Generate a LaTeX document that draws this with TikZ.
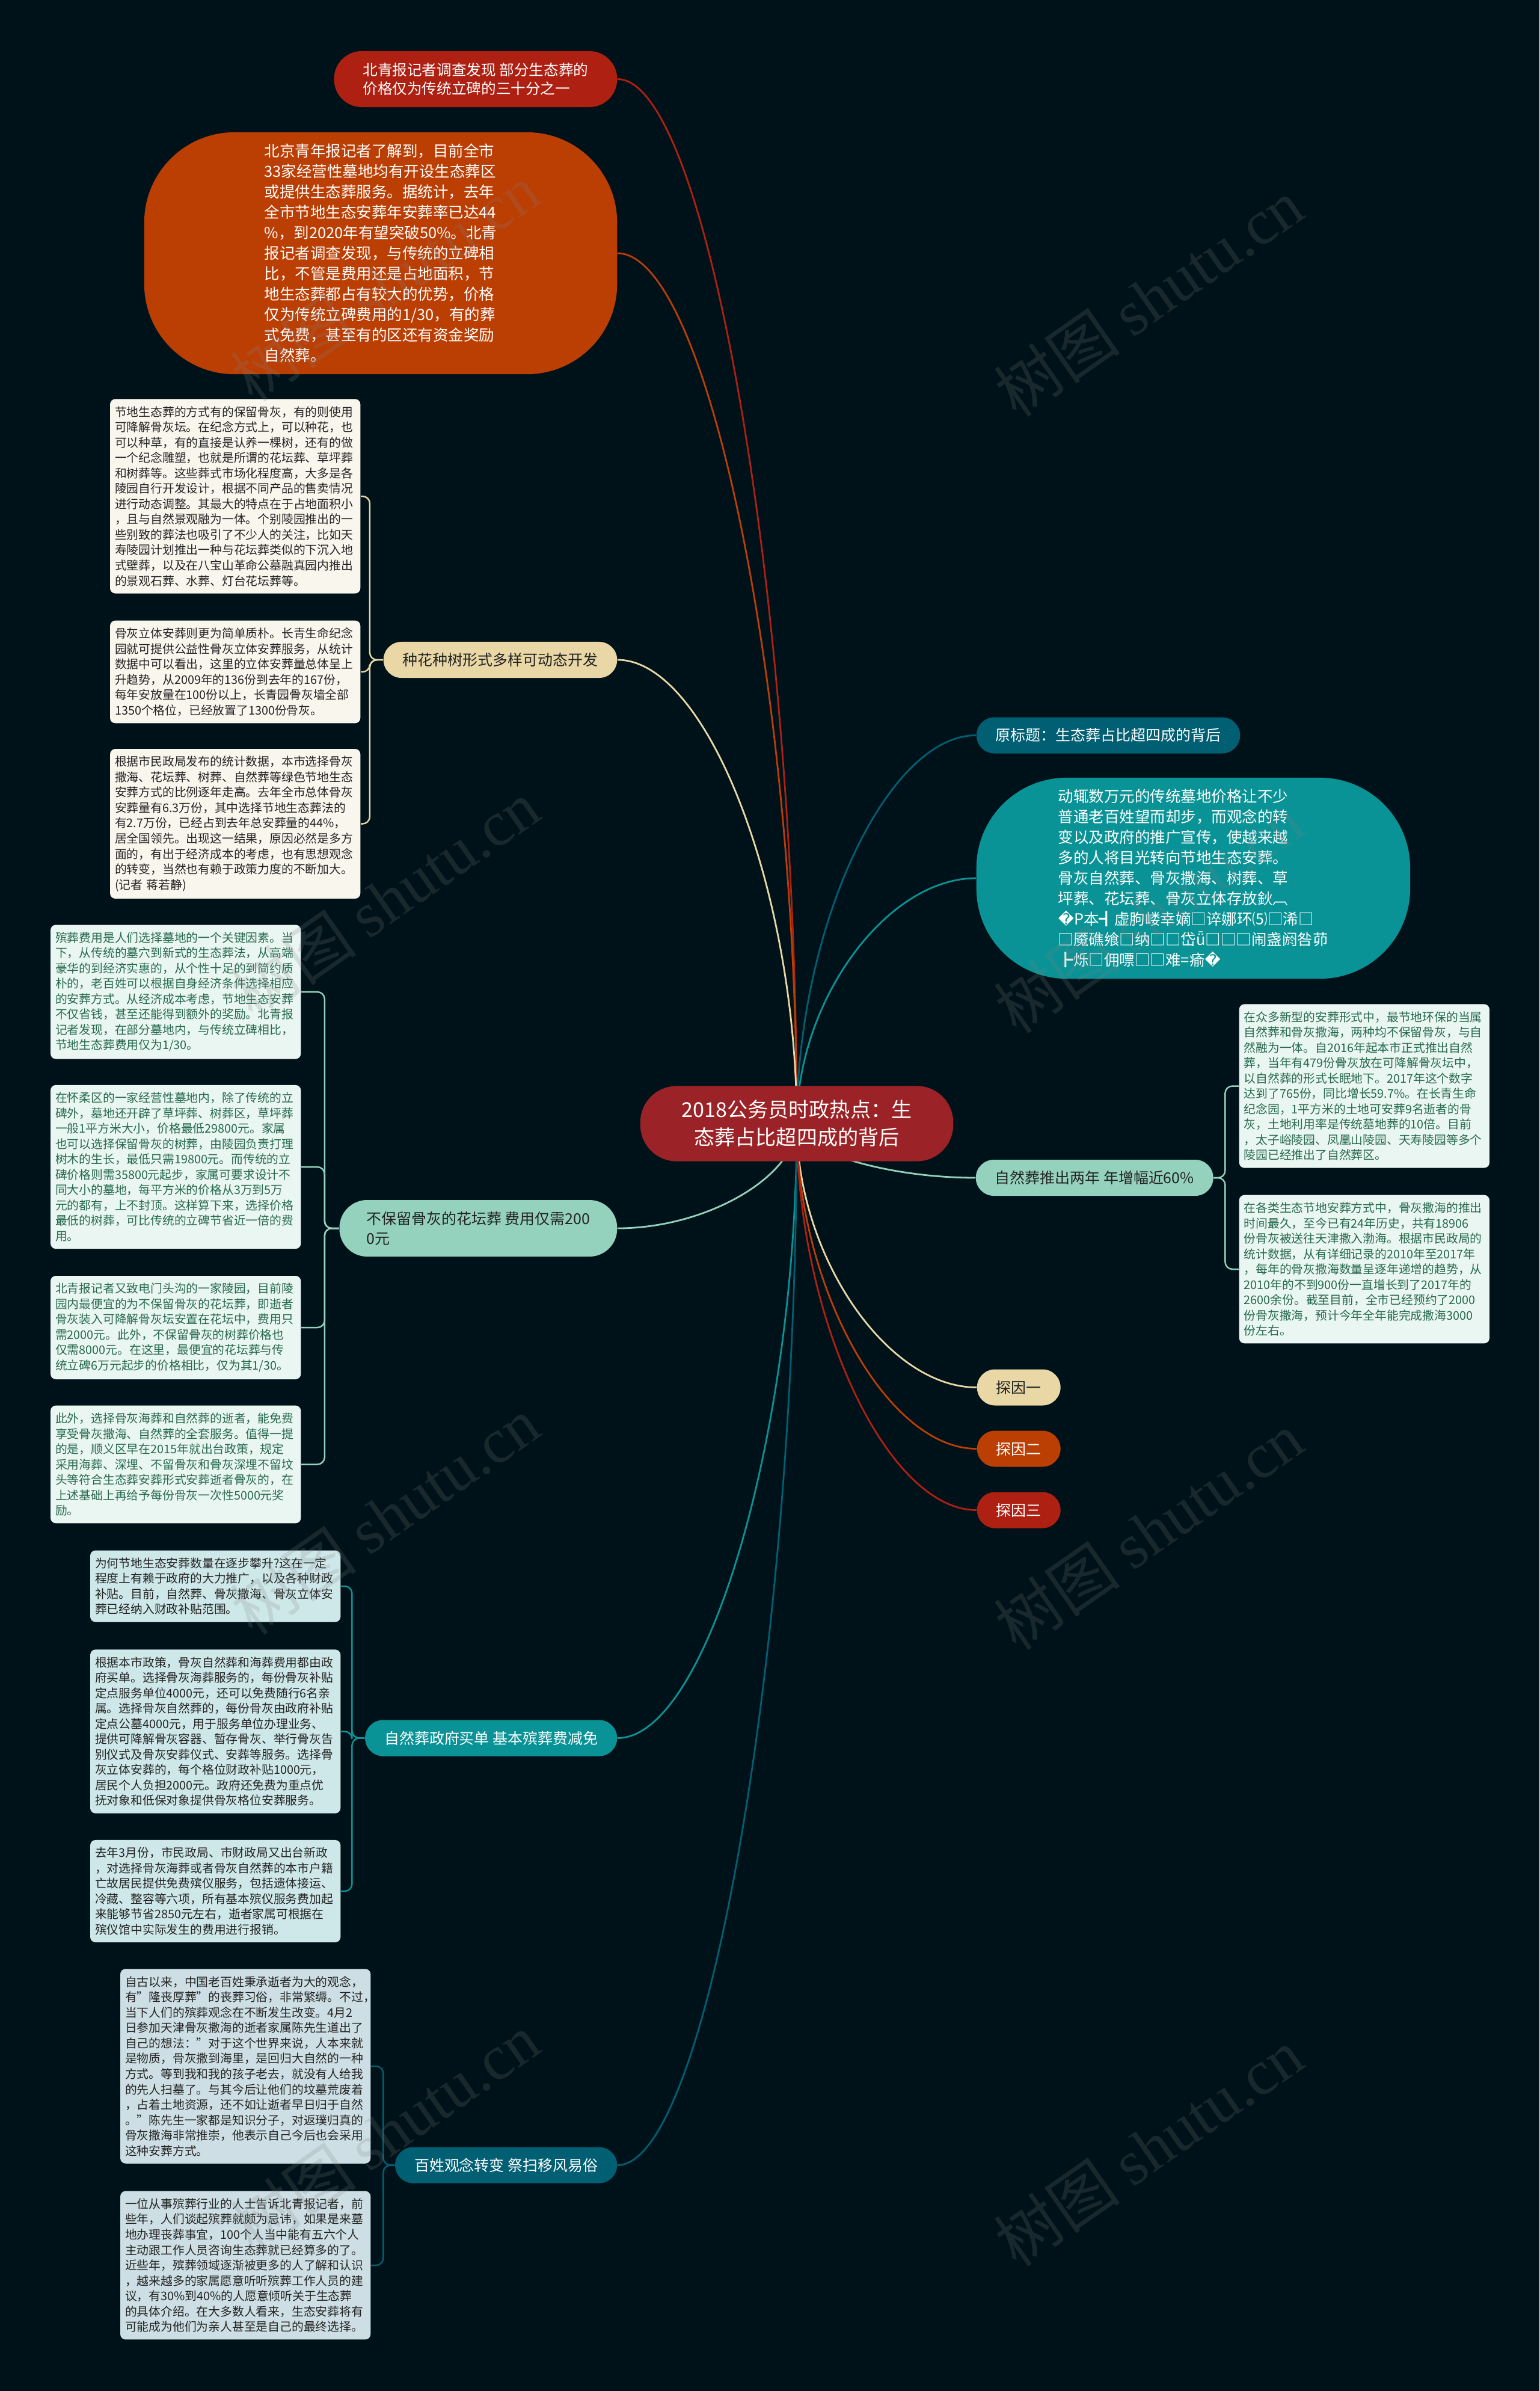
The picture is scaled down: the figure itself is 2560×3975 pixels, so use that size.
\documentclass[tikz,border=0pt]{standalone}
\usepackage{fontspec}
\setmainfont{Noto Sans CJK SC}
\newfontfamily\markfont{Liberation Serif}
\newfontfamily\glyphfont{DejaVu Sans}
\usepackage{xcolor}
\usepackage{tikz}
\usetikzlibrary{calc, backgrounds}
\definecolor{inkbg}{RGB}{0,18,25}
\definecolor{rootred}{RGB}{155,34,38}
\definecolor{crimson}{RGB}{174,32,18}
\definecolor{rust}{RGB}{187,62,3}
\definecolor{sand}{RGB}{233,216,166}
\definecolor{mint}{RGB}{148,210,189}
\definecolor{seateal}{RGB}{10,147,150}
\definecolor{deepteal}{RGB}{0,95,115}
\definecolor{sandleaf}{RGB}{249,246,237}
\definecolor{mintleaf}{RGB}{234,246,242}
\definecolor{tealleaf}{RGB}{206,232,234}
\definecolor{deepleaf}{RGB}{205,223,228}
\definecolor{mintink}{RGB}{38,105,78}
\definecolor{darkink}{RGB}{35,35,35}
\newcommand{\badglyph}{{\glyphfont �}}

\begin{document}
\begin{tikzpicture}[
        x=0.01cm, y=-0.01cm,
        root/.style={rectangle, rounded corners=0.6cm, fill=rootred, text=white, align=center, minimum width=5.2cm, minimum height=1.25cm, font=\fontsize{9.7pt}{13.1pt}\selectfont},
        topic/.style={rectangle, rounded corners=0.3cm, minimum height=0.6cm, inner xsep=0.32cm, inner ysep=0pt, font=\fontsize{7.1pt}{9.4pt}\selectfont},
        bubble/.style={rectangle, rounded corners=1.5cm, text=white, align=left, font=\fontsize{7.25pt}{9.67pt}\selectfont},
        leaf/.style={rectangle, rounded corners=2.5pt, text width=4cm, inner xsep=0.08cm, inner ysep=0.12cm, align=left, font=\fontsize{5.63pt}{7.26pt}\selectfont},
        link/.style={line width=0.8pt, to path={.. controls ($(\tikztostart)!0.5!(\tikztostart|-\tikztotarget)$) and ($(\tikztotarget)!0.5!(\tikztostart|-\tikztotarget)$) .. (\tikztotarget)}},
        twig/.style={line width=0.7pt, rounded corners=0.12cm},
        wmark/.style={text=gray, opacity=0.2, rotate=35, font=\fontsize{30pt}{30pt}\selectfont},
    ]
        \useasboundingbox (0,0) rectangle (2560,3975);

        \node[root] (root) at (1325,1868) {2018公务员时政热点：生\\态葬占比超四成的背后};

        \node[topic, fill=crimson, text=white, anchor=east, align=left, minimum height=0.93cm, rounded corners=0.46cm, inner xsep=0.48cm, font=\fontsize{7pt}{8.8pt}\selectfont] (news) at (1027,131.5) {北青报记者调查发现 部分生态葬的\\价格仅为传统立碑的三十分之一};
        \node[bubble, fill=rust, anchor=east, minimum width=7.86cm, minimum height=4.02cm] (intro) at (1027,421) {北京青年报记者了解到，目前全市\\33家经营性墓地均有开设生态葬区\\或提供生态葬服务。据统计，去年\\全市节地生态安葬年安葬率已达44\\\%，到2020年有望突破50\%。北青\\报记者调查发现，与传统的立碑相\\比，不管是费用还是占地面积，节\\地生态葬都占有较大的优势，价格\\仅为传统立碑费用的1/30，有的葬\\式免费，甚至有的区还有资金奖励\\自然葬。};
        \node[topic, fill=sand, text=darkink, anchor=east] (flowers) at (1027,1097) {种花种树形式多样可动态开发};
        \node[topic, fill=mint, text=darkink, anchor=east, align=left, minimum height=0.94cm, rounded corners=0.46cm, inner xsep=0.45cm] (costs) at (1027,2042) {不保留骨灰的花坛葬 费用仅需200\\0元};
        \node[topic, fill=seateal, text=white, anchor=east] (subsidy) at (1027,2889.5) {自然葬政府买单 基本殡葬费减免};
        \node[topic, fill=deepteal, text=white, anchor=east] (attitude) at (1027,3599.5) {百姓观念转变 祭扫移风易俗};

        \node[topic, fill=deepteal, text=white, anchor=west] (origin) at (1623,1222.5) {原标题：生态葬占比超四成的背后};
        \node[bubble, fill=seateal, anchor=west, minimum width=7.21cm, minimum height=3.34cm] (summary) at (1623,1460) {动辄数万元的传统墓地价格让不少\\普通老百姓望而却步，而观念的转\\变以及政府的推广宣传，使越来越\\多的人将目光转向节地生态安葬。\\骨灰自然葬、骨灰撒海、树葬、草\\坪葬、花坛葬、骨灰立体存放鈥︹\\\badglyph P本┫虚朐嵝幸嫡□谇娜环⑸□浠□\\□魇礁飨□纳□□岱ǖ□□□闹盏阏咎茆\\┣烁□佣嘌□□难=瘉\badglyph};
        \node[topic, fill=mint, text=darkink, anchor=west] (natural) at (1622,1958) {自然葬推出两年 年增幅近60\%};
        \node[topic, fill=sand, text=darkink, anchor=west] (why1) at (1624,2306.5) {探因一};
        \node[topic, fill=rust, text=white, anchor=west] (why2) at (1624,2408.5) {探因二};
        \node[topic, fill=crimson, text=white, anchor=west] (why3) at (1624,2510.5) {探因三};

        \node[leaf, fill=sandleaf, text=darkink, anchor=east] (flowers1) at (600,825) {节地生态葬的方式有的保留骨灰，有的则使用\\可降解骨灰坛。在纪念方式上，可以种花，也\\可以种草，有的直接是认养一棵树，还有的做\\一个纪念雕塑，也就是所谓的花坛葬、草坪葬\\和树葬等。这些葬式市场化程度高，大多是各\\陵园自行开发设计，根据不同产品的售卖情况\\进行动态调整。其最大的特点在于占地面积小\\，且与自然景观融为一体。个别陵园推出的一\\些别致的葬法也吸引了不少人的关注，比如天\\寿陵园计划推出一种与花坛葬类似的下沉入地\\式壁葬，以及在八宝山革命公墓融真园内推出\\的景观石葬、水葬、灯台花坛葬等。};
        \node[leaf, fill=sandleaf, text=darkink, anchor=east] (flowers2) at (600,1117) {骨灰立体安葬则更为简单质朴。长青生命纪念\\园就可提供公益性骨灰立体安葬服务，从统计\\数据中可以看出，这里的立体安葬量总体呈上\\升趋势，从2009年的136份到去年的167份，\\每年安放量在100份以上，长青园骨灰墙全部\\1350个格位，已经放置了1300份骨灰。};
        \node[leaf, fill=sandleaf, text=darkink, anchor=east] (flowers3) at (600,1369.5) {根据市民政局发布的统计数据，本市选择骨灰\\撒海、花坛葬、树葬、自然葬等绿色节地生态\\安葬方式的比例逐年走高。去年全市总体骨灰\\安葬量有6.3万份，其中选择节地生态葬法的\\有2.7万份，已经占到去年总安葬量的44\%，\\居全国领先。出现这一结果，原因必然是多方\\面的，有出于经济成本的考虑，也有思想观念\\的转变，当然也有赖于政策力度的不断加大。\\(记者 蒋若静)};

        \node[leaf, fill=mintleaf, text=mintink, anchor=east] (costs1) at (501,1649) {殡葬费用是人们选择墓地的一个关键因素。当\\下，从传统的墓穴到新式的生态葬法，从高端\\豪华的到经济实惠的，从个性十足的到简约质\\朴的，老百姓可以根据自身经济条件选择相应\\的安葬方式。从经济成本考虑，节地生态安葬\\不仅省钱，甚至还能得到额外的奖励。北青报\\记者发现，在部分墓地内，与传统立碑相比，\\节地生态葬费用仅为1/30。};
        \node[leaf, fill=mintleaf, text=mintink, anchor=east] (costs2) at (501,1940) {在怀柔区的一家经营性墓地内，除了传统的立\\碑外，墓地还开辟了草坪葬、树葬区，草坪葬\\一般1平方米大小，价格最低29800元。家属\\也可以选择保留骨灰的树葬，由陵园负责打理\\树木的生长，最低只需19800元。而传统的立\\碑价格则需35800元起步，家属可要求设计不\\同大小的墓地，每平方米的价格从3万到5万\\元的都有，上不封顶。这样算下来，选择价格\\最低的树葬，可比传统的立碑节省近一倍的费\\用。};
        \node[leaf, fill=mintleaf, text=mintink, anchor=east] (costs3) at (501,2207) {北青报记者又致电门头沟的一家陵园，目前陵\\园内最便宜的为不保留骨灰的花坛葬，即逝者\\骨灰装入可降解骨灰坛安置在花坛中，费用只\\需2000元。此外，不保留骨灰的树葬价格也\\仅需8000元。在这里，最便宜的花坛葬与传\\统立碑6万元起步的价格相比，仅为其1/30。};
        \node[leaf, fill=mintleaf, text=mintink, anchor=east] (costs4) at (501,2434.5) {此外，选择骨灰海葬和自然葬的逝者，能免费\\享受骨灰撒海、自然葬的全套服务。值得一提\\的是，顺义区早在2015年就出台政策，规定\\采用海葬、深埋、不留骨灰和骨灰深埋不留坟\\头等符合生态葬安葬形式安葬逝者骨灰的，在\\上述基础上再给予每份骨灰一次性5000元奖\\励。};

        \node[leaf, fill=tealleaf, text=darkink, anchor=east] (subsidy1) at (567,2637) {为何节地生态安葬数量在逐步攀升?这在一定\\程度上有赖于政府的大力推广，以及各种财政\\补贴。目前，自然葬、骨灰撒海、骨灰立体安\\葬已经纳入财政补贴范围。};
        \node[leaf, fill=tealleaf, text=darkink, anchor=east] (subsidy2) at (567,2878.5) {根据本市政策，骨灰自然葬和海葬费用都由政\\府买单。选择骨灰海葬服务的，每份骨灰补贴\\定点服务单位4000元，还可以免费随行6名亲\\属。选择骨灰自然葬的，每份骨灰由政府补贴\\定点公墓4000元，用于服务单位办理业务、\\提供可降解骨灰容器、暂存骨灰、举行骨灰告\\别仪式及骨灰安葬仪式、安葬等服务。选择骨\\灰立体安葬的，每个格位财政补贴1000元，\\居民个人负担2000元。政府还免费为重点优\\抚对象和低保对象提供骨灰格位安葬服务。};
        \node[leaf, fill=tealleaf, text=darkink, anchor=east] (subsidy3) at (567,3144) {去年3月份，市民政局、市财政局又出台新政\\，对选择骨灰海葬或者骨灰自然葬的本市户籍\\亡故居民提供免费殡仪服务，包括遗体接运、\\冷藏、整容等六项，所有基本殡仪服务费加起\\来能够节省2850元左右，逝者家属可根据在\\殡仪馆中实际发生的费用进行报销。};

        \node[leaf, fill=deepleaf, text=darkink, anchor=east] (attitude1) at (617,3435) {自古以来，中国老百姓秉承逝者为大的观念，\\有"隆丧厚葬"的丧葬习俗，非常繁缛。不过，\\当下人们的殡葬观念在不断发生改变。4月2\\日参加天津骨灰撒海的逝者家属陈先生道出了\\自己的想法："对于这个世界来说，人本来就\\是物质，骨灰撒到海里，是回归大自然的一种\\方式。等到我和我的孩子老去，就没有人给我\\的先人扫墓了。与其今后让他们的坟墓荒废着\\，占着土地资源，还不如让逝者早日归于自然\\。"陈先生一家都是知识分子，对返璞归真的\\骨灰撒海非常推崇，他表示自己今后也会采用\\这种安葬方式。};
        \node[leaf, fill=deepleaf, text=darkink, anchor=east] (attitude2) at (617,3766) {一位从事殡葬行业的人士告诉北青报记者，前\\些年，人们谈起殡葬就颇为忌讳，如果是来墓\\地办理丧葬事宜，100个人当中能有五六个人\\主动跟工作人员咨询生态葬就已经算多的了。\\近些年，殡葬领域逐渐被更多的人了解和认识\\，越来越多的家属愿意听听殡葬工作人员的建\\议，有30\%到40\%的人愿意倾听关于生态葬\\的具体介绍。在大多数人看来，生态安葬将有\\可能成为他们为亲人甚至是自己的最终选择。};

        \node[leaf, fill=mintleaf, text=mintink, anchor=west] (natural1) at (2060,1805.5) {在众多新型的安葬形式中，最节地环保的当属\\自然葬和骨灰撒海，两种均不保留骨灰，与自\\然融为一体。自2016年起本市正式推出自然\\葬，当年有479份骨灰放在可降解骨灰坛中，\\以自然葬的形式长眠地下。2017年这个数字\\达到了765份，同比增长59.7\%。在长青生命\\纪念园，1平方米的土地可安葬9名逝者的骨\\灰，土地利用率是传统墓地葬的10倍。目前\\，太子峪陵园、凤凰山陵园、天寿陵园等多个\\陵园已经推出了自然葬区。};
        \node[leaf, fill=mintleaf, text=mintink, anchor=west] (natural2) at (2060,2110) {在各类生态节地安葬方式中，骨灰撒海的推出\\时间最久，至今已有24年历史，共有18906\\份骨灰被送往天津撒入渤海。根据市民政局的\\统计数据，从有详细记录的2010年至2017年\\，每年的骨灰撒海数量呈逐年递增的趋势，从\\2010年的不到900份一直增长到了2017年的\\2600余份。截至目前，全市已经预约了2000\\份骨灰撒海，预计今年全年能完成撒海3000\\份左右。};

        \draw[twig, sand] (flowers.west) -- ++(-22,0) |- (flowers1.east);
        \draw[twig, sand] (flowers.west) -- ++(-22,0) |- (flowers2.east);
        \draw[twig, sand] (flowers.west) -- ++(-22,0) |- (flowers3.east);
        \draw[twig, mint] (costs.west) -- ++(-24,0) |- (costs1.east);
        \draw[twig, mint] (costs.west) -- ++(-24,0) |- (costs2.east);
        \draw[twig, mint] (costs.west) -- ++(-24,0) |- (costs3.east);
        \draw[twig, mint] (costs.west) -- ++(-24,0) |- (costs4.east);
        \draw[twig, seateal] (subsidy.west) -- ++(-21,0) |- (subsidy1.east);
        \draw[twig, seateal] (subsidy.west) -- ++(-21,0) |- (subsidy2.east);
        \draw[twig, seateal] (subsidy.west) -- ++(-21,0) |- (subsidy3.east);
        \draw[twig, deepteal] (attitude.west) -- ++(-19,0) |- (attitude1.east);
        \draw[twig, deepteal] (attitude.west) -- ++(-19,0) |- (attitude2.east);
        \draw[twig, mint] (natural.east) -- ++(19,0) |- (natural1.west);
        \draw[twig, mint] (natural.east) -- ++(19,0) |- (natural2.west);

        \begin{scope}[on background layer]
            \fill[inkbg] (0,0) rectangle (2560,3975);
            \draw[link, crimson] (root.center) to (news.east);
            \draw[link, rust] (root.center) to (intro.east);
            \draw[link, sand] (root.center) to (flowers.east);
            \draw[link, mint] (root.center) to (costs.east);
            \draw[link, seateal] (root.center) to (subsidy.east);
            \draw[link, deepteal] (root.center) to (attitude.east);
            \draw[link, deepteal] (root.center) to (origin.west);
            \draw[link, seateal] (root.center) to (summary.west);
            \draw[link, mint] (root.center) to (natural.west);
            \draw[link, sand] (root.center) to (why1.west);
            \draw[link, rust] (root.center) to (why2.west);
            \draw[link, crimson] (root.center) to (why3.west);
        \end{scope}

        \node[wmark] (wm1) at (640,470) {树图 {\markfont shutu.cn}};
        \node[wmark] (wm2) at (1910,495) {树图 {\markfont shutu.cn}};
        \node[wmark] (wm3) at (640,1495) {树图 {\markfont shutu.cn}};
        \node[wmark] (wm4) at (1910,1520) {树图 {\markfont shutu.cn}};
        \node[wmark] (wm5) at (640,2520) {树图 {\markfont shutu.cn}};
        \node[wmark] (wm6) at (1910,2545) {树图 {\markfont shutu.cn}};
        \node[wmark] (wm7) at (640,3545) {树图 {\markfont shutu.cn}};
        \node[wmark] (wm8) at (1910,3570) {树图 {\markfont shutu.cn}};
    \end{tikzpicture}
\end{document}
